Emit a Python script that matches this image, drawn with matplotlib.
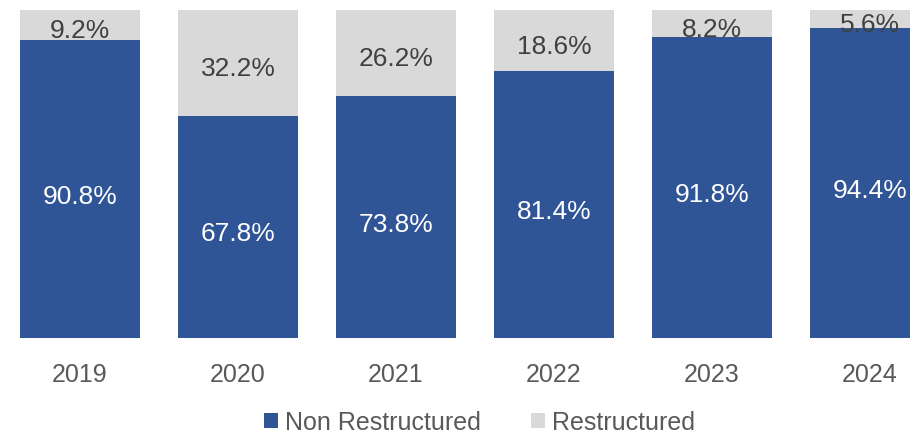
import numpy as np
import matplotlib
matplotlib.use('Agg')
import matplotlib.pyplot as plt

plt.rcParams['font.family'] = ['Liberation Sans', 'DejaVu Sans']

years = ['2019', '2020', '2021', '2022', '2023', '2024']
non_restructured = [90.8, 67.8, 73.8, 81.4, 91.8, 94.4]
restructured = [9.2, 32.2, 26.2, 18.6, 8.2, 5.6]

blue = '#2F5597'
grey = '#D9D9D9'

fig = plt.figure(figsize=(9.10, 4.35), dpi=100)
ax = fig.add_axes([0, 96 / 435, 1, 328 / 435])

x = np.arange(len(years))
w = 120 / 158
b1 = ax.bar(x, non_restructured, w, color=blue, label='Non Restructured')
b2 = ax.bar(x, restructured, w, bottom=non_restructured, color=grey, label='Restructured')

for i in range(len(years)):
    ax.annotate('%.1f%%' % non_restructured[i], (x[i], non_restructured[i] / 2),
                xytext=(0, -3), textcoords='offset points',
                ha='center', va='center_baseline', color='white', fontsize=19)
    ax.annotate('%.1f%%' % restructured[i], (x[i], non_restructured[i] + restructured[i] / 2),
                xytext=(0, -2), textcoords='offset points',
                ha='center', va='center_baseline', color='#404040', fontsize=19)
    ax.text(x[i], -10.2, years[i], ha='center', va='center_baseline', color='#595959', fontsize=18)

ax.set_xlim(-80 / 158, -80 / 158 + 910 / 158)
ax.set_ylim(0, 100)
ax.axis('off')

fig.legend(handles=[b1, b2], loc='center', bbox_to_anchor=(0.527, 12 / 435), ncol=2,
           frameon=False, fontsize=18, labelcolor='#595959', handlelength=0.55,
           handleheight=0.55, handletextpad=0.3, columnspacing=2.0,
           borderpad=0.1)

fig.savefig('out.png', dpi=100)
